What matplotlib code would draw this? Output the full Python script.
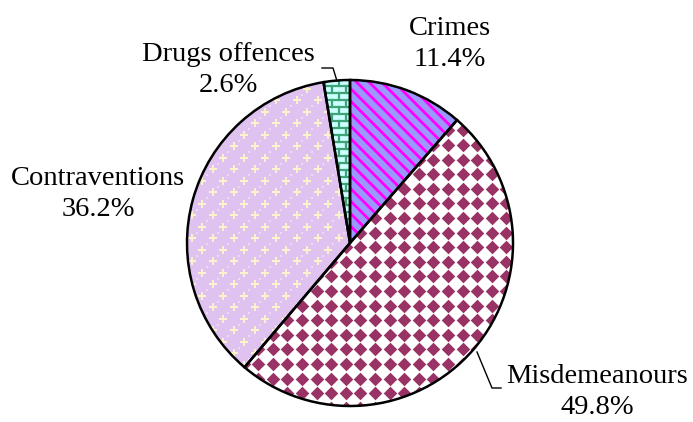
import matplotlib.pyplot as plt
import numpy as np

plt.rcParams['font.family'] = ['Liberation Serif', 'DejaVu Serif']

labels = ['Crimes', 'Misdemeanours', 'Contraventions', 'Drugs offences']
shares = [11.4, 49.8, 36.2, 2.6]
base_colors = ['#9999ff', '#ffffff', '#dfc2f0', '#ccffff']

W, H = 693, 422
cx, cy, R = 350, 243, 163


def px(x, y):
    # pixel position -> data position (pie radius = 1)
    return (x - cx) / R, (cy - y) / R


fig = plt.figure(figsize=(W / 100, H / 100), dpi=100)
ax = fig.add_axes([0, 0, 1, 1])

wedges, _ = ax.pie(shares, colors=base_colors, startangle=90, counterclock=False,
                   wedgeprops=dict(linewidth=0))

g = np.arange(-1.2, 1.2, 1e-3)

# Crimes: magenta stripes
w = wedges[0]
for c in np.arange(-2.5, 2.5, 12.5 / R):
    ln, = ax.plot(g, -g + c, color='#ff00ff', lw=2.0, solid_capstyle='butt', zorder=2)
    ln.set_clip_path(w)

# Misdemeanours: diamond grid
w = wedges[1]
s = 14.6 / R
xs, ys = np.meshgrid(np.arange(-1.1, 1.1, s), np.arange(-1.1, 1.1, s))
sc = ax.scatter(xs.ravel(), ys.ravel(), marker='D', s=48, color='#993366',
                linewidths=0, zorder=2)
sc.set_clip_path(w)

# Contraventions: small pale crosses on lavender
w = wedges[2]
dx, dy = 21 / R, 11.5 / R
pts = []
for i, yy in enumerate(np.arange(-1.1, 1.1, dy)):
    off = (i % 2) * dx / 2
    for xx in np.arange(-1.1, 1.1, dx):
        pts.append((xx + off, yy))
pts = np.array(pts)
sc = ax.scatter(pts[:, 0] + dx / 4, pts[:, 1] + dy / 2, marker='s', s=3,
                color='#eedaf5', linewidths=0, zorder=2)
sc.set_clip_path(w)
sc = ax.scatter(pts[:, 0], pts[:, 1], marker='+', s=30, color='#fbf3cc',
                linewidths=1.4, zorder=2)
sc.set_clip_path(w)

# Drugs offences: bricks
w = wedges[3]
bh, bw = 7 / R, 14 / R
for i, yy in enumerate(np.arange(-1.1, 1.1, bh)):
    ln, = ax.plot([-1.2, 1.2], [yy, yy], color='#3fa378', lw=1.6, zorder=2)
    ln.set_clip_path(w)
    off = (i % 2) * bw / 2
    for xx in np.arange(-1.1, 1.1, bw):
        ln, = ax.plot([xx + off, xx + off], [yy, yy + bh], color='#3fa378', lw=1.6, zorder=2)
        ln.set_clip_path(w)

# outlines
ax.pie(shares, startangle=90, counterclock=False,
       wedgeprops=dict(fill=False, edgecolor='black', linewidth=1.8, zorder=5))

# labels
label_pos = [(450, 44), (597, 392), (98, 194), (228, 70)]
for lab, val, (x, y) in zip(labels, shares, label_pos):
    ax.text(*px(x, y), f'{lab}\n{val}%', ha='center', va='center',
            fontsize=20.5, linespacing=1.3)

# leader lines
for path in ([(337, 81), (333, 68), (322, 68)], [(477, 352), (492, 388), (501, 388)]):
    p = np.array([px(x, y) for x, y in path])
    ax.plot(p[:, 0], p[:, 1], color='black', lw=1.0, zorder=6)

ax.set_xlim(px(0, 0)[0], px(W, 0)[0])
ax.set_ylim(px(0, H)[1], px(0, 0)[1])
ax.set_aspect('auto')
ax.axis('off')

fig.savefig('out.png', dpi=100)
